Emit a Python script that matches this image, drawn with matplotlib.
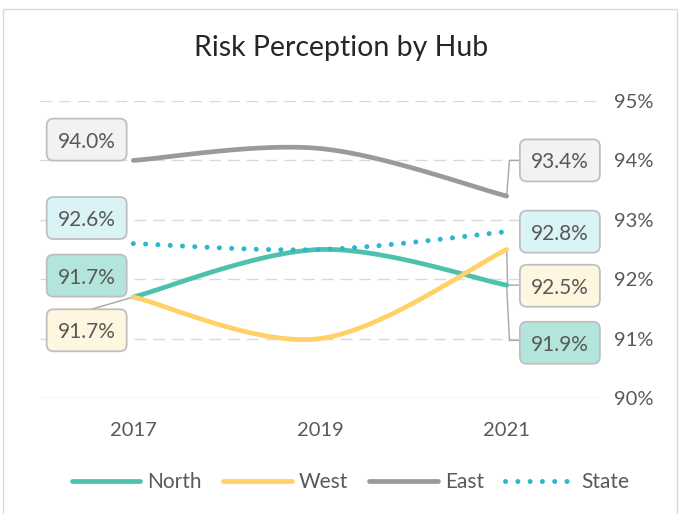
import numpy as np
import matplotlib
matplotlib.use("Agg")
import matplotlib.pyplot as plt
from matplotlib.patches import Rectangle, FancyBboxPatch
from matplotlib.lines import Line2D

plt.rcParams['font.family'] = ['Lato', 'DejaVu Sans']

years = ["2017", "2019", "2021"]
north = [91.7, 92.5, 91.9]
west = [91.7, 91.0, 92.5]
east = [94.0, 94.2, 93.4]
state = [92.6, 92.5, 92.8]
yticks = [90, 91, 92, 93, 94, 95]

TXT = "#595959"
C_N = "#4CC2AE"
C_W = "#FFD166"
C_E = "#9A9A9A"
C_S = "#2DB7CC"


def smooth(ys, n=60):
    pts = np.column_stack([np.arange(len(ys), dtype=float), np.asarray(ys, float)])
    out = []
    for i in range(len(pts) - 1):
        p0 = pts[i - 1] if i > 0 else pts[i]
        p1, p2 = pts[i], pts[i + 1]
        p3 = pts[i + 2] if i + 2 < len(pts) else pts[i + 1]
        c1 = p1 + (p2 - p0) / 6.0
        c2 = p2 - (p3 - p1) / 6.0
        t = np.linspace(0, 1, n)[:, None]
        seg = (1 - t) ** 3 * p1 + 3 * (1 - t) ** 2 * t * c1 + 3 * (1 - t) * t ** 2 * c2 + t ** 3 * p2
        out.append(seg if i == 0 else seg[1:])
    s = np.vstack(out)
    return s[:, 0], s[:, 1]


W, H = 683, 514
AX_W, AX_H = 560, 297
fig = plt.figure(figsize=(W / 100, H / 100), dpi=100)
fig.patch.set_facecolor("white")
ax = fig.add_axes([40 / W, 1 - 398 / H, AX_W / W, AX_H / H])
ax.set_xlim(-0.5, len(years) - 0.5)
ax.set_ylim(yticks[0], yticks[-1])
PX_X = len(years) / AX_W              # data-x per pixel
PX_Y = (yticks[-1] - yticks[0]) / AX_H  # data-y per pixel

for sp in ax.spines.values():
    sp.set_visible(False)

for v in yticks[1:]:
    ax.axhline(v, color="#D9D9D9", lw=1.0, ls=(0, (8.5, 5)), zorder=0)
ax.axhline(yticks[0], color="#D9D9D9", lw=1.0, zorder=0)

ax.set_xticks(range(len(years)))
ax.set_xticklabels(years)
ax.set_yticks(yticks)
ax.set_yticklabels([f"{v}%" for v in yticks])
ax.yaxis.tick_right()
ax.tick_params(axis="both", length=0, labelsize=14.5, labelcolor=TXT)
ax.tick_params(axis="y", pad=10)
ax.tick_params(axis="x", pad=17)

lw = 3.4
x, y = smooth(north); ax.plot(x, y, color=C_N, lw=lw, solid_capstyle="round", zorder=3)
x, y = smooth(west); ax.plot(x, y, color=C_W, lw=lw, solid_capstyle="round", zorder=3)
x, y = smooth(east); ax.plot(x, y, color=C_E, lw=lw, solid_capstyle="round", zorder=3)
x, y = smooth(state); ax.plot(x, y, color=C_S, lw=3.6, ls=(0, (0.01, 2.45)), dash_capstyle="round", zorder=4)

# leader lines
LC = "#A6A6A6"
ax.plot([0, -0.24], [west[0], 91.48], color=LC, lw=1.0, zorder=2, clip_on=False)
ax.plot([2.0, 2.015, 2.08], [east[2], 94.0, 94.0], color=LC, lw=1.0, zorder=2, clip_on=False)
ax.plot([2.0, 2.005, 2.08], [west[2], 91.9, 91.9], color=LC, lw=1.0, zorder=2, clip_on=False)
ax.plot([2.0, 2.015, 2.08], [north[2], 90.97, 90.97], color=LC, lw=1.0, zorder=2, clip_on=False)


def label(xp, yp, val, fc):
    bw, bh = 80 * PX_X, 42 * PX_Y
    box = FancyBboxPatch((xp - bw / 2, yp - bh / 2), bw, bh,
                         boxstyle=f"round,pad=0,rounding_size={7 * PX_X}",
                         mutation_aspect=PX_Y / PX_X, fc=fc, ec="#BFBFBF", lw=1.3,
                         zorder=5, clip_on=False)
    ax.add_patch(box)
    ax.text(xp, yp, f"{val:.1f}%", ha="center", va="center_baseline", fontsize=15, color=TXT, zorder=6,
            clip_on=False)


LX, RX = -0.25, 2.285
label(LX, 94.35, east[0], "#F2F2F2")
label(LX, 93.03, state[0], "#DAF3F7")
label(LX, 92.06, north[0], "#B4E5DC")
label(LX, 91.14, west[0], "#FFF6E0")
label(RX, 94.0, east[2], "#F2F2F2")
label(RX, 92.8, state[2], "#DAF3F7")
label(RX, 91.89, west[2], "#FFF6E0")
label(RX, 90.93, north[2], "#B4E5DC")

fig.text(0.5, 1 - 48 / H, "Risk Perception by Hub", ha="center", va="center", fontsize=20.5, color="#262626")

handles = [
    Line2D([], [], color=C_N, lw=lw, solid_capstyle="round"),
    Line2D([], [], color=C_W, lw=lw, solid_capstyle="round"),
    Line2D([], [], color=C_E, lw=lw, solid_capstyle="round"),
    Line2D([], [], color=C_S, lw=3.6, ls=(0, (0.01, 2.45)), dash_capstyle="round"),
]
fig.legend(handles, ["North", "West", "East", "State"], loc="center", bbox_to_anchor=(0.513, 1 - 482 / H),
           ncol=4, frameon=False, fontsize=15, labelcolor=TXT, handlelength=3.3, handletextpad=0.35,
           columnspacing=1.0)

fig.patches.append(Rectangle((3 / W, -0.02), 674 / W, 1 - 9 / H + 0.02, transform=fig.transFigure,
                             fill=False, ec="#D9D9D9", lw=1.0))

fig.savefig("out.png", dpi=100, facecolor="white")
